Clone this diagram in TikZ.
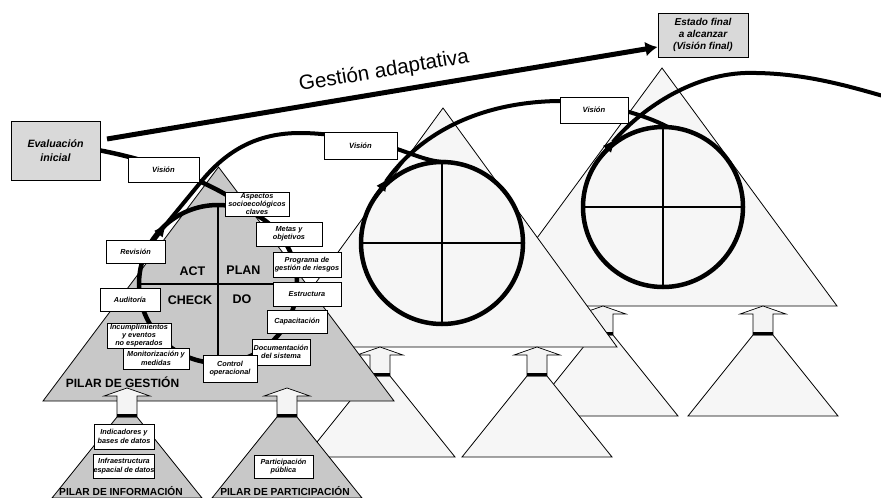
\documentclass[tikz,border=0pt]{standalone}
\usepackage{fontspec}
\setmainfont{Liberation Sans}
\usetikzlibrary{arrows.meta}
\definecolor{tri}{RGB}{200,200,200}
\definecolor{lite}{RGB}{246,246,246}
\definecolor{boxgray}{RGB}{217,217,217}
\definecolor{arrfill}{RGB}{244,244,244}
\newcommand{\bxfont}{\fontsize{7.3}{8.3}\selectfont\bfseries\itshape}
\newcommand{\pillarunit}[3]{%
 \filldraw[pilltri, fill=#3] ({#1-10},{#2+29}) -- ({#1+10},{#2+29}) -- ({#1+75},{#2+110}) -- ({#1-75},{#2+110}) -- cycle;
 \filldraw[pillarrow] (#1,#2) -- ({#1+23},{#2+8}) -- ({#1+10},{#2+8}) -- ({#1+10},{#2+29}) -- ({#1-10},{#2+29}) -- ({#1-10},{#2+8}) -- ({#1-23},{#2+8}) -- cycle;
 \fill ({#1-10},{#2+25.5}) rectangle ({#1+10},{#2+29});}
\begin{document}
\begin{tikzpicture}[x=1pt,y=-1pt,
  pilltri/.style={draw=black, line width=0.8pt},
  pillarrow/.style={draw=black, line width=0.7pt, fill=arrfill},
  bigtri/.style={draw=black, line width=0.8pt},
  ring/.style={draw=black, line width=4.5pt},
  crossline/.style={draw=black, line width=2pt},
  spiralline/.style={draw=black, line width=4pt},
  spiraltip/.style={draw=black, line width=4pt, -{Latex[length=14pt,width=11pt]}},
  sbox/.style={draw=black, fill=white, line width=0.9pt, inner sep=0pt, align=center, font=\bxfont},
  vbox/.style={sbox, font=\fontsize{7.6}{9}\selectfont\bfseries\itshape},
  gbox/.style={draw=black, fill=boxgray, line width=1pt, inner sep=0pt, align=center},
  pdca/.style={font=\fontsize{12.5}{14}\selectfont\bfseries, inner sep=0pt},
  pilar/.style={font=\fontsize{10.2}{12}\selectfont\bfseries, inner sep=0pt}]
\useasboundingbox (0,0) rectangle (881,498);
\clip (0,0) rectangle (881,498);
% ---------- set 3 ----------
\filldraw[bigtri, fill=lite] (662,68) -- (837,306) -- (487,306) -- cycle;
\pillarunit{603}{306}{lite}
\pillarunit{763}{306}{lite}
\coordinate (c3) at (663,207);
\filldraw[ring, fill=lite] (c3) circle[radius=80];
\draw[crossline] (663,127) -- (663,287);
\draw[crossline] (583,207) -- (743,207);
% ---------- set 2 ----------
\filldraw[bigtri, fill=lite] (443,108) -- (617,347) -- (269,347) -- cycle;
\pillarunit{380}{347}{lite}
\pillarunit{537}{347}{lite}
\coordinate (c2) at (442,243);
\filldraw[ring, fill=lite] (c2) circle[radius=81];
\draw[crossline] (442,162) -- (442,324);
\draw[crossline] (361,243) -- (523,243);
% ---------- set 1 ----------
\filldraw[bigtri, fill=tri] (218.5,167) -- (394,401) -- (43,401) -- cycle;
\pillarunit{127}{388}{tri}
\pillarunit{287}{388}{tri}
\coordinate (c1) at (218,284);
\draw[ring] (c1) circle[radius=79];
\draw[crossline] (218,205) -- (218,363);
\draw[crossline] (139,284) -- (297,284);
\node[pdca] (act) at (192.5,271) {ACT};
\node[pdca] (plan) at (243.5,270) {PLAN};
\node[pdca] (check) at (190,300) {CHECK};
\node[pdca] (do) at (242,299) {DO};
\node[pilar, font=\fontsize{12}{14}\selectfont\bfseries] (pg) at (122.5,382) {PILAR DE GESTIÓN};
\node[pilar] (pi) at (121,491) {PILAR DE INFORMACIÓN};
\node[pilar] (pp) at (285,491) {PILAR DE PARTICIPACIÓN};
% ---------- boxes that curves start from ----------
\node[gbox, minimum width=89pt, minimum height=59pt, font=\fontsize{10.6}{14}\selectfont\bfseries\itshape] (ev) at (55.5,150.5) {Evaluación\\inicial};
\node[gbox, minimum width=90pt, minimum height=44pt, font=\fontsize{10}{12}\selectfont\bfseries\itshape] (est) at (703,35) {Estado final\\a alcanzar\\(Visión final)};
% ---------- curves ----------
\coordinate (gstart) at (107,139);
\draw[line width=5pt, -{Latex[length=12pt,width=15pt]}] (gstart) -- ([yshift=-12pt]est.west);
\node[font=\fontsize{20.6}{24}\selectfont, inner sep=0pt, anchor=base west, rotate=9.5] (ga) at (300,91) {Gestión adaptativa};
\coordinate (aend) at (235,200);
\draw[spiralline, line width=4.5pt] (ev.east) .. controls (150,160) and (200,178) .. (aend);
% set 1 -> set 2
\draw[spiraltip] (147,249) -- (167,223);
\draw[spiralline] (163,228) -- (200,183) .. controls (228,148) and (260,133) .. (300,133) .. controls (330,133) and (370,140) .. (400,150) .. controls (420,157) and (432,162) .. (446,162);
% set 2 -> set 3
\draw[spiraltip] (375.6,196.5) -- (389,177.3);
\draw[spiralline] (386,181.5) .. controls (412,144) and (465,103) .. (557,101) .. controls (600,101) and (645,115) .. (668,127);
% set 3 -> out
\draw[spiraltip] (601.7,155.6) -- (616,138.5);
\draw[spiralline] (613,142) .. controls (640,110) and (690,75) .. (745,73) .. controls (800,72) and (845,85) .. (890,98);
% ---------- boxes ----------
\node[vbox, minimum width=71pt, minimum height=25pt] (v1) at (163.5,169.5) {Visión};
\node[vbox, minimum width=73pt, minimum height=27pt] (v2) at (360.5,145.5) {Visión};
\node[vbox, minimum width=68pt, minimum height=26pt] (v3) at (594,110) {Visión};
\node[sbox, minimum width=64pt, minimum height=24pt] (asp) at (257,204) {Aspectos\\socioecológicos\\claves};
\node[sbox, minimum width=66pt, minimum height=24pt] (met) at (289,234) {Metas y\\objetivos};
\node[sbox, minimum width=68pt, minimum height=25pt] (prog) at (307,264.5) {Programa de\\gestión de riesgos};
\node[sbox, minimum width=68pt, minimum height=24pt] (estr) at (307,294) {Estructura};
\node[sbox, minimum width=60pt, minimum height=23pt] (cap) at (297,321.5) {Capacitación};
\node[sbox, minimum width=58pt, minimum height=26pt] (doc) at (281,352) {Documentación\\del sistema};
\node[sbox, minimum width=54pt, minimum height=27pt] (ctl) at (230,368.5) {Control\\operacional};
\node[sbox, minimum width=59pt, minimum height=23pt] (rev) at (135.5,251.5) {Revisión};
\node[sbox, minimum width=60pt, minimum height=23pt] (aud) at (130,299.5) {Auditoría};
\node[sbox, minimum width=64pt, minimum height=25pt] (inc) at (139,335.5) {Incumplimientos\\y eventos\\no esperados};
\node[sbox, minimum width=66pt, minimum height=21pt] (mon) at (156,358.5) {Monitorización y\\medidas};
\node[sbox, minimum width=60pt, minimum height=25pt] (ind) at (124,436.5) {Indicadores y\\bases de datos};
\node[sbox, minimum width=60pt, minimum height=24pt] (inf) at (124,466) {Infraestructura\\espacial de datos};
\node[sbox, minimum width=59pt, minimum height=23pt] (par) at (283.5,466.5) {Participación\\pública};
\end{tikzpicture}
\end{document}
